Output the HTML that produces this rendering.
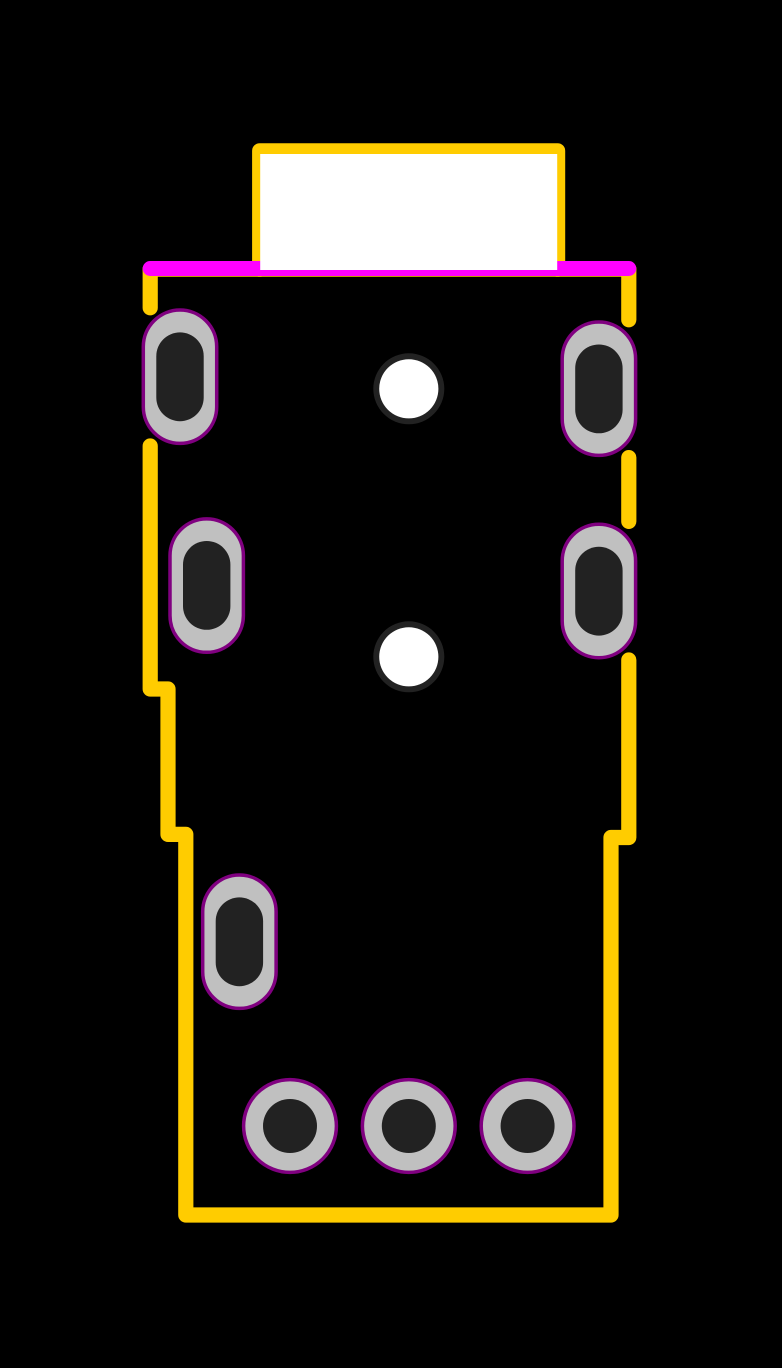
<!DOCTYPE html>
<html>
<head>
<meta charset="utf-8">
<style>
html,body{margin:0;padding:0;background:#000;width:782px;height:1368px;overflow:hidden}
svg{display:block}
</style>
</head>
<body>
<svg width="782" height="1368" viewBox="0 0 782 1368" xmlns="http://www.w3.org/2000/svg">
<rect width="782" height="1368" fill="#000"/>
<g fill="none" stroke="#ffcc00" stroke-width="15.2" stroke-linecap="round" stroke-linejoin="round">
<path d="M259.7 269.2V150.8H557.6V269.2"/>
<path d="M150.2 269.2H628.8"/>
<path d="M150.2 269.2V307.8"/>
<path d="M628.8 269.2V319.8"/>
<path d="M628.8 457.6V521.4"/>
<path d="M150.2 446V689H168V834.4H185.8V1215H611V837.5H628.8V660"/>
</g>
<path d="M150.2 268.5H628.8" fill="none" stroke="#ff00ff" stroke-width="15" stroke-linecap="round"/>
<rect x="260.2" y="154" width="297" height="116" fill="#fff"/>
<g fill="#c0c0c0" stroke="#800080" stroke-width="3.5">
<rect x="143.3" y="310" width="73.4" height="133.4" rx="36.7" ry="36.7"/>
<rect x="170" y="518.9" width="73.4" height="133.4" rx="36.7" ry="36.7"/>
<rect x="562.2" y="322" width="73.4" height="133.4" rx="36.7" ry="36.7"/>
<rect x="562.2" y="524.3" width="73.4" height="133.4" rx="36.7" ry="36.7"/>
<rect x="202.7" y="875" width="73.4" height="133.4" rx="36.7" ry="36.7"/>
<circle cx="290" cy="1126" r="46.4"/>
<circle cx="408.8" cy="1126" r="46.4"/>
<circle cx="527.6" cy="1126" r="46.4"/>
</g>
<g fill="#222222">
<rect x="156.3" y="332.4" width="47.4" height="88.8" rx="23.7" ry="23.7"/>
<rect x="183" y="541" width="47.4" height="88.8" rx="23.7" ry="23.7"/>
<rect x="575.2" y="344.5" width="47.4" height="88.8" rx="23.7" ry="23.7"/>
<rect x="575.2" y="546.8" width="47.4" height="88.8" rx="23.7" ry="23.7"/>
<rect x="215.7" y="897.4" width="47.4" height="88.8" rx="23.7" ry="23.7"/>
<circle cx="290" cy="1126" r="27"/>
<circle cx="408.8" cy="1126" r="27"/>
<circle cx="527.6" cy="1126" r="27"/>
<circle cx="408.8" cy="388.8" r="35.5"/>
<circle cx="408.8" cy="656.8" r="35.5"/>
</g>
<g fill="#fff">
<circle cx="408.8" cy="388.8" r="29.6"/>
<circle cx="408.8" cy="656.8" r="29.6"/>
</g>
</svg>
</body>
</html>
